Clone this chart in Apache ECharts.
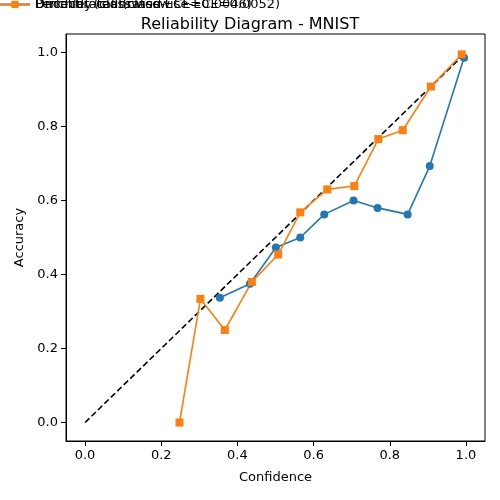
<!DOCTYPE html>
<html><head><meta charset="utf-8">
<script src="https://cdn.jsdelivr.net/npm/echarts@6/dist/echarts.min.js"></script>
<style>html,body{margin:0;padding:0;background:#fff}#c{width:500px;height:500px}</style>
</head><body><div id="c"></div>
<script>
const perfect = [[0,0],[1,1]];
const uncalX = [0.354,0.433,0.501,0.565,0.628,0.705,0.768,0.847,0.905,0.995];
const uncalY = [0.337,0.375,0.473,0.500,0.5625,0.600,0.580,0.5625,0.693,0.986];
const dirX = [0.248,0.303,0.367,0.438,0.507,0.565,0.636,0.707,0.770,0.834,0.908,0.989];
const dirY = [0.0,0.334,0.250,0.380,0.454,0.568,0.630,0.639,0.766,0.790,0.908,0.995];
const ticks = [0,0.2,0.4,0.6,0.8,1.0];
const font = 'DejaVu Sans';
const zip = (a,b)=>a.map((v,i)=>[v,b[i]]);
const axisCommon = {
  type:'value', min:-0.05, max:1.05, interval:0.2,
  axisLine:{onZero:false,lineStyle:{color:'#000'}},
  splitLine:{show:false},
  axisTick:{show:true,customValues:ticks,lineStyle:{color:'#000'}},
  axisLabel:{color:'#000',fontFamily:font,fontSize:13,
    customValues:ticks, formatter:v=>v.toFixed(1)},
  nameLocation:'middle', nameTextStyle:{color:'#000',fontFamily:font,fontSize:13}
};
const chart = echarts.init(document.getElementById('c'));
chart.setOption({
  animation:false,
  title:{text:'Reliability Diagram - MNIST',left:'center',top:12,
    textStyle:{fontFamily:font,fontSize:16,fontWeight:'normal',color:'#000'}},
  grid:{left:66,right:15,top:34,bottom:59,show:true,borderColor:'#000',borderWidth:1},
  legend:{orient:'vertical',left:73,top:44,itemGap:5,itemWidth:30,itemHeight:9,
    backgroundColor:'rgba(255,255,255,0.8)',borderColor:'#ccc',borderWidth:1,borderRadius:3,padding:[4,6],
    textStyle:{fontFamily:font,fontSize:13,color:'#000'},
    data:[{name:'Perfectly calibrated',icon:'path://M0 0'},'Uncalibrated (classwise-ECE=0.0052)','Dirichlet (classwise-ECE=0.0046)']},
  xAxis:Object.assign({},axisCommon,{name:'Confidence',nameGap:30}),
  yAxis:Object.assign({},axisCommon,{name:'Accuracy',nameGap:40}),
  series:[
    {name:'Perfectly calibrated',type:'line',data:perfect,symbol:'none',
      lineStyle:{color:'#000',type:[6,3],width:1.6},itemStyle:{color:'#000'}},
    {name:'Uncalibrated (classwise-ECE=0.0052)',type:'line',data:zip(uncalX,uncalY),
      symbol:'circle',symbolSize:8,lineStyle:{color:'#1f77b4',width:1.6},itemStyle:{color:'#1f77b4'}},
    {name:'Dirichlet (classwise-ECE=0.0046)',type:'line',data:zip(dirX,dirY),
      symbol:'rect',symbolSize:8,lineStyle:{color:'#ff7f0e',width:1.6},itemStyle:{color:'#ff7f0e'}}
  ]
});
</script></body></html>
